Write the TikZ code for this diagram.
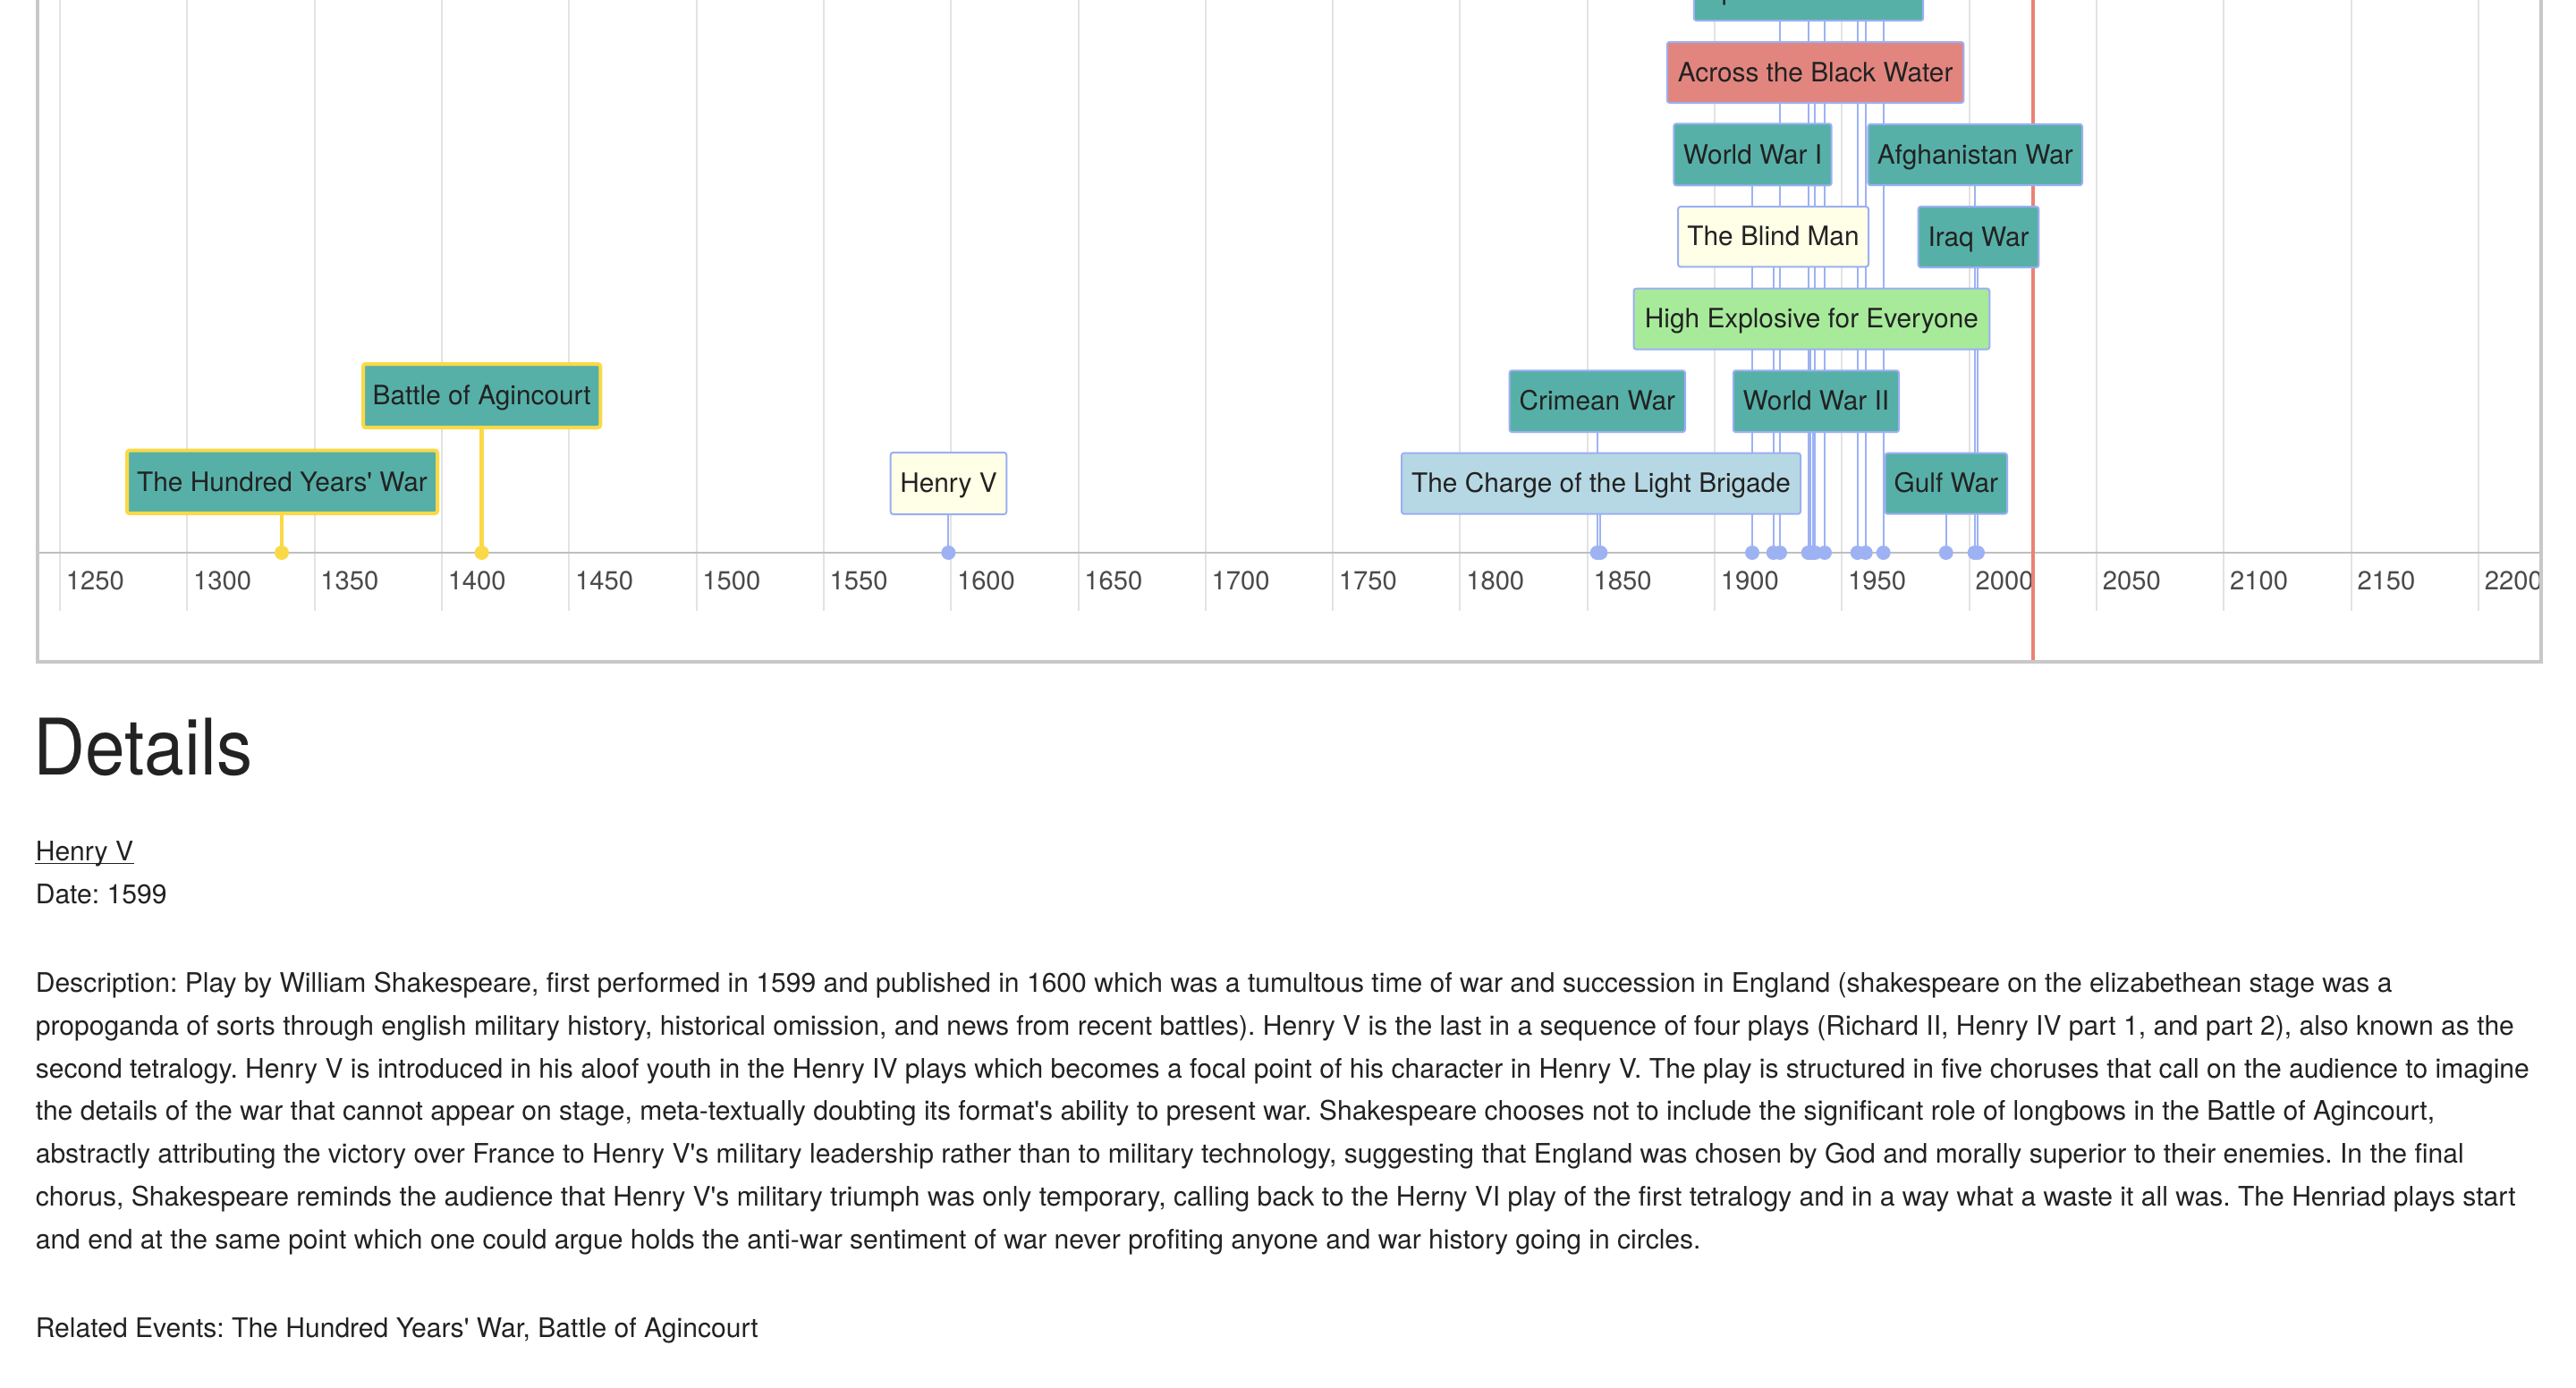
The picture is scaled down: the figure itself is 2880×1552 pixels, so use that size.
\documentclass[tikz,border=0pt]{standalone}
\usepackage{fontspec}
\setmainfont{TeX Gyre Heros}
\newcommand\aq{\textquotesingle}
\definecolor{tealb}{HTML}{56B0A8}
\definecolor{bord}{HTML}{9BAFF2}
\definecolor{salm}{HTML}{E2857F}
\definecolor{pyel}{HTML}{FFFEE6}
\definecolor{pgrn}{HTML}{A7EB9A}
\definecolor{pblu}{HTML}{B6D8E4}
\definecolor{gold}{HTML}{FAD946}
\definecolor{redl}{HTML}{EC8273}
\definecolor{dotb}{HTML}{9DB2F3}
\definecolor{gridc}{HTML}{E3E3E3}
\definecolor{axisc}{HTML}{BEBEBE}
\definecolor{framec}{HTML}{C8C8C8}
\definecolor{txt}{HTML}{222222}
\definecolor{tickc}{HTML}{4A4A4A}
\pgfdeclarelayer{bg}
\pgfsetlayers{bg,main}
\frenchspacing
\begin{document}
\begin{tikzpicture}[x=0.25pt,y=-0.25pt,
  evbox/.style={draw=bord, line width=0.5pt, rounded corners=0.7pt, inner sep=0pt, outer sep=0pt,
    text=txt, font=\fontsize{7.45}{8}\selectfont, text height=5.1pt, text depth=0pt, align=center},
  goldbox/.style={evbox, draw=gold, line width=1pt},
  stem/.style={draw=dotb, line width=0.5pt},
  goldstem/.style={draw=gold, line width=1.1pt},
  dotst/.style={fill=dotb},
  golddot/.style={fill=gold},
  ticklab/.style={anchor=base west, inner sep=0pt, text=tickc, font=\fontsize{7.3}{8}\selectfont},
  body/.style={anchor=base west, inner sep=0pt, text=txt, font=\fontsize{7.52}{9}\selectfont\frenchspacing}
]
\useasboundingbox (0,0) rectangle (2880,1552);

\begin{scope}
\clip (43,-20) rectangle (2840,739);

% boxes
\path
  node[evbox, fill=tealb, minimum width=64.1pt, minimum height=17pt] (scw) at (2022,-11) {Spanish Civil War}
  node[evbox, fill=salm, minimum width=82.9pt, minimum height=17pt] (abw) at (2029.6,81) {Across the Black Water}
  node[evbox, fill=tealb, minimum width=44.1pt, minimum height=17.25pt] (ww1) at (1959.5,172.8) {World War I}
  node[evbox, fill=tealb, minimum width=59.9pt, minimum height=17.1pt] (afg) at (2208.2,173) {Afghanistan War}
  node[evbox, fill=pyel, minimum width=53.25pt, minimum height=16.8pt] (blind) at (1982.5,264.7) {The Blind Man}
  node[evbox, fill=tealb, minimum width=33.65pt, minimum height=17pt] (iraq) at (2212,265) {Iraq War}
  node[evbox, fill=pgrn, minimum width=99.45pt, minimum height=17pt] (hefe) at (2025.4,356.7) {High Explosive for Everyone}
  node[evbox, fill=tealb, minimum width=49.1pt, minimum height=17.2pt] (crim) at (1785.8,448.7) {Crimean War}
  node[evbox, fill=tealb, minimum width=46.3pt, minimum height=17.2pt] (ww2) at (2030.4,448.7) {World War II}
  node[evbox, fill=pblu, minimum width=111.5pt, minimum height=17pt] (chg) at (1790,540.7) {The Charge of the Light Brigade}
  node[evbox, fill=tealb, minimum width=34.1pt, minimum height=17pt] (gulf) at (2175.8,540.7) {Gulf War}
  node[goldbox, fill=tealb, minimum width=66.3pt, minimum height=17.75pt] (agc) at (538.7,442.5) {Battle of Agincourt}
  node[goldbox, fill=tealb, minimum width=86.75pt, minimum height=17.6pt] (hyw) at (315.5,538.9) {The Hundred Years\aq{} War}
  node[evbox, fill=pyel, minimum width=32.4pt, minimum height=17.25pt] (hv) at (1060.5,540.5) {Henry V};

\begin{pgfonlayer}{bg}
\fill[white] (0,-20) rectangle (2880,760);
% grid lines and year labels
\foreach \yr in {1250,1300,...,2200}{
  \pgfmathsetmacro\gx{67+(\yr-1250)*2.8463}
  \draw[gridc, line width=0.5pt] (\gx,-20) -- (\gx,683);
  \node[ticklab] (t\yr) at (\gx+6,659) {\yr};
}
% axis
\coordinate (axl) at (42,618);
\coordinate (axr) at (2841,618);
\draw[axisc, line width=0.6pt] (axl) -- (axr);

% dot coordinates
\coordinate (dhyw) at (315,618);
\coordinate (dagc) at (538.6,618);
\coordinate (dhv) at (1060.4,618);
\coordinate (dcrim) at (1785.7,618);
\coordinate (dchg) at (1789.3,618);
\coordinate (dww1) at (1959,618);
\coordinate (dblind) at (1982.7,618);
\coordinate (doffa) at (1990,618);
\coordinate (dscw) at (2021.7,618);
\coordinate (dhefe) at (2024.2,618);
\coordinate (dww2) at (2026.6,618);
\coordinate (dabw) at (2029.2,618);
\coordinate (doffb) at (2040,618);
\coordinate (doffc) at (2076.7,618);
\coordinate (doffd) at (2085.7,618);
\coordinate (doffe) at (2105.7,618);
\coordinate (dgulf) at (2175.7,618);
\coordinate (dafg) at (2207.7,618);
\coordinate (diraq) at (2211,618);
\coordinate (toffa) at (1990,-20);
\coordinate (toffb) at (2040,-20);
\coordinate (toffc) at (2076.7,-20);
\coordinate (toffd) at (2085.7,-20);
\coordinate (toffe) at (2105.7,-20);

% stems
\draw[goldstem] (hyw.south -| dhyw) -- (dhyw);
\draw[goldstem] (agc.south -| dagc) -- (dagc);
\foreach \b in {hv,crim,chg,ww1,blind,scw,hefe,ww2,abw,gulf,afg,iraq}{
  \draw[stem] (\b.south -| d\b) -- (d\b);
}
\foreach \o in {offa,offb,offc,offd,offe}{
  \draw[stem] (t\o) -- (d\o);
}
% dots
\fill[golddot] (dhyw) circle[radius=2pt];
\fill[golddot] (dagc) circle[radius=2pt];
\foreach \b in {hv,crim,chg,ww1,blind,offa,scw,hefe,ww2,abw,offb,offc,offd,offe,gulf,afg,iraq}{
  \fill[dotst] (d\b) circle[radius=2pt];
}
% red "now" line
\coordinate (rtop) at (2273,-20);
\coordinate (rbot) at (2273,739);
\draw[redl, line width=1pt] (rtop) -- (rbot);
\end{pgfonlayer}
\end{scope}

% frame of the timeline
\coordinate (fa) at (42,-20);
\coordinate (fb) at (42,740);
\coordinate (fc) at (2841,740);
\coordinate (fd) at (2841,-20);
\draw[framec, line width=0.9pt] (fa) -- (fb) -- (fc) -- (fd);

% details section
\node[anchor=base west, inner sep=0pt, text=txt] (details) at (37,866)
  {\scalebox{0.92}[1]{\fontsize{21.8}{24}\selectfont Details}};
\node[body] (hvlink) at (39,962) {Henry V};
\draw[txt, line width=0.45pt] ([yshift=-0.85pt]hvlink.base west) -- ([yshift=-0.85pt]hvlink.base east);
\node[body] (date) at (39,1010) {Date: 1599};
\node[body] (desc1) at (39,1109) {Description: Play by William Shakespeare, first performed in 1599 and published in 1600 which was a tumultous time of war and succession in England (shakespeare on the elizabethean stage was a};
\node[body] (desc2) at (39,1157) {propoganda of sorts through english military history, historical omission, and news from recent battles). Henry V is the last in a sequence of four plays (Richard II, Henry IV part 1, and part 2), also known as the};
\node[body] (desc3) at (39,1205) {second tetralogy. Henry V is introduced in his aloof youth in the Henry IV plays which becomes a focal point of his character in Henry V. The play is structured in five choruses that call on the audience to imagine};
\node[body] (desc4) at (39,1252.6) {the details of the war that cannot appear on stage, meta-textually doubting its format\aq{}s ability to present war. Shakespeare chooses not to include the significant role of longbows in the Battle of Agincourt,};
\node[body] (desc5) at (39,1300.4) {abstractly attributing the victory over France to Henry V\aq{}s military leadership rather than to military technology, suggesting that England was chosen by God and morally superior to their enemies. In the final};
\node[body] (desc6) at (39,1348.1) {chorus, Shakespeare reminds the audience that Henry V\aq{}s military triumph was only temporary, calling back to the Herny VI play of the first tetralogy and in a way what a waste it all was. The Henriad plays start};
\node[body] (desc7) at (39,1396) {and end at the same point which one could argue holds the anti-war sentiment of war never profiting anyone and war history going in circles.};
\node[body] (rel) at (39,1495) {Related Events: The Hundred Years\aq{} War, Battle of Agincourt};
\end{tikzpicture}
\end{document}
